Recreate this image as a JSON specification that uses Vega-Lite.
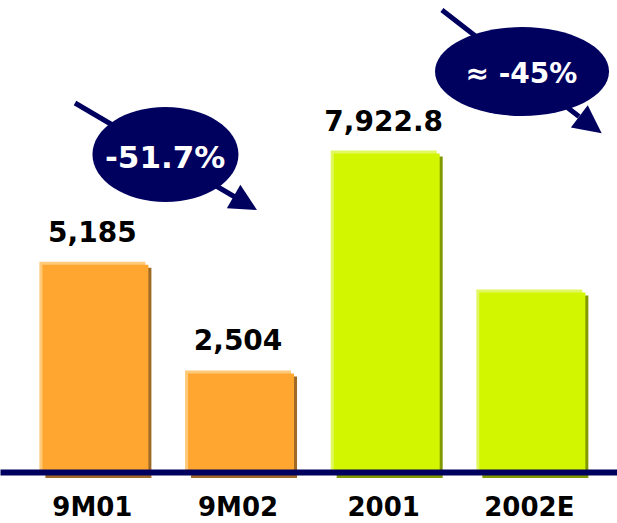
{
  "$schema": "https://vega.github.io/schema/vega-lite/v6.json",
  "width": 617,
  "height": 472,
  "padding": 0,
  "autosize": {"type": "pad"},
  "background": "white",
  "config": {"view": {"stroke": null}, "font": "DejaVu Sans"},
  "datasets": {
    "bars": [
      {"period": "9M01", "kind": "9M", "value": 5185, "label": "5,185"},
      {"period": "9M02", "kind": "9M", "value": 2504, "label": "2,504"},
      {"period": "2001", "kind": "FY", "value": 7922.8, "label": "7,922.8"},
      {"period": "2002E", "kind": "FY", "value": 4500, "label": ""}
    ],
    "anchor": [{}]
  },
  "layer": [
    {
      "data": {"name": "bars"},
      "encoding": {
        "x": {
          "field": "period", "type": "nominal", "sort": null,
          "scale": {"paddingInner": 0.2722, "paddingOuter": 0.2542, "align": 0.532},
          "axis": {
            "title": null, "ticks": false, "grid": false, "labelAngle": 0, "zindex": 1,
            "labelFont": "DejaVu Sans", "labelFontWeight": "bold", "labelFontSize": 26,
            "labelColor": "#000000", "labelPadding": 43, "labelBaseline": "alphabetic",
            "domainColor": "#00005F", "domainWidth": 6
          }
        },
        "y": {"field": "value", "type": "quantitative", "scale": {"domain": [0, 11636], "nice": false}, "axis": null}
      },
      "layer": [
        {
          "mark": {"type": "bar"},
          "encoding": {"color": {"field": "kind", "type": "nominal", "scale": {"domain": ["9M", "FY"], "range": ["#FFC97A", "#E2F860"]}, "legend": null}}
        },
        {
          "mark": {"type": "bar", "xOffset": 6, "yOffset": 6, "y2Offset": 0},
          "encoding": {"color": {"field": "kind", "type": "nominal", "scale": {"domain": ["9M", "FY"], "range": ["#9E6A26", "#809A00"]}, "legend": null}}
        },
        {
          "mark": {"type": "bar", "xOffset": 3, "yOffset": 3, "y2Offset": 0},
          "encoding": {"color": {"field": "kind", "type": "nominal", "scale": {"domain": ["9M", "FY"], "range": ["#FFA630", "#D2F500"]}, "legend": null}}
        },
        {
          "mark": {"type": "text", "dy": -20, "fontSize": 28, "fontWeight": "bold", "color": "#000000", "baseline": "alphabetic", "font": "DejaVu Sans"},
          "encoding": {"text": {"field": "label"}}
        }
      ],
      "resolve": {"scale": {"color": "independent"}}
    },
    {
      "data": {"name": "anchor"},
      "layer": [
        {
          "mark": {"type": "rule", "color": "#00005F", "strokeWidth": 5},
          "encoding": {
            "x": {"datum": -0.119, "type": "quantitative", "scale": {"domain": [-0.634, 3.602], "nice": false, "zero": false}, "axis": null},
            "y": {"datum": 9097, "type": "quantitative"},
            "x2": {"datum": 0.979},
            "y2": {"datum": 6779}
          }
        },
        {
          "mark": {"type": "rule", "color": "#00005F", "strokeWidth": 5},
          "encoding": {
            "x": {"datum": 2.4, "type": "quantitative"},
            "y": {"datum": 11390, "type": "quantitative"},
            "x2": {"datum": 3.341},
            "y2": {"datum": 8764}
          }
        },
        {
          "mark": {"type": "point", "shape": "M-1,0A1,0.65,0,1,1,1,0A1,0.65,0,1,1,-1,0Z", "size": 21316, "filled": true, "color": "#00005F", "opacity": 1},
          "encoding": {
            "x": {"datum": 0.502, "type": "quantitative"},
            "y": {"datum": 7827, "type": "quantitative"}
          }
        },
        {
          "mark": {"type": "point", "shape": "M-1,0A1,0.511,0,1,1,1,0A1,0.511,0,1,1,-1,0Z", "size": 30276, "filled": true, "color": "#00005F", "opacity": 1},
          "encoding": {
            "x": {"datum": 2.95, "type": "quantitative"},
            "y": {"datum": 9873, "type": "quantitative"}
          }
        },
        {
          "mark": {"type": "point", "shape": "M0,-1L1,1L-1,1Z", "size": 729, "angle": 120, "filled": true, "color": "#00005F", "opacity": 1},
          "encoding": {
            "x": {"datum": 1.05, "type": "quantitative"},
            "y": {"datum": 6627, "type": "quantitative"}
          }
        },
        {
          "mark": {"type": "point", "shape": "M0,-1L1,1L-1,1Z", "size": 784, "angle": 127, "filled": true, "color": "#00005F", "opacity": 1},
          "encoding": {
            "x": {"datum": 3.42, "type": "quantitative"},
            "y": {"datum": 8561, "type": "quantitative"}
          }
        },
        {
          "mark": {"type": "text", "text": "-51.7%", "fontSize": 31, "fontWeight": "bold", "color": "#FFFFFF", "baseline": "alphabetic", "align": "center", "font": "DejaVu Sans"},
          "encoding": {
            "x": {"datum": 0.5, "type": "quantitative"},
            "y": {"datum": 7494, "type": "quantitative"}
          }
        },
        {
          "mark": {"type": "text", "text": "≈ -45%", "fontSize": 28, "fontWeight": "bold", "color": "#FFFFFF", "baseline": "alphabetic", "align": "center", "font": "DejaVu Sans"},
          "encoding": {
            "x": {"datum": 2.946, "type": "quantitative"},
            "y": {"datum": 9590, "type": "quantitative"}
          }
        }
      ]
    }
  ],
  "resolve": {"scale": {"x": "independent"}}
}
